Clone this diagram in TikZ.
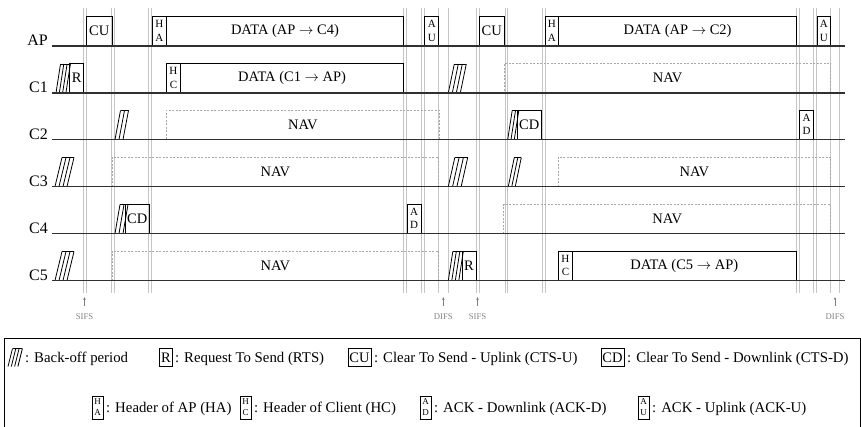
\documentclass[tikz,border=0pt]{standalone}
\usepackage{fontspec}
\setmainfont{Liberation Serif}
\usetikzlibrary{arrows.meta}
\definecolor{gridc}{HTML}{C6C6C6}
\definecolor{navc}{HTML}{A8A8A8}
\definecolor{tlc}{HTML}{303030}
\definecolor{notec}{HTML}{808080}
\tikzset{
  frame/.style={draw=black, line width=0.9pt, inner sep=0pt, anchor=south west,
    minimum height=29pt, font=\fontsize{14.5}{16}\selectfont},
  small/.style={frame, align=center, font=\fontsize{11}{13.5}\selectfont},
  nav/.style={draw=navc, dash pattern=on 2pt off 1.5pt, line width=0.8pt, inner sep=0pt,
    anchor=south west, minimum height=29pt, font=\fontsize{14.5}{16}\selectfont},
  gridline/.style={draw=gridc, line width=0.7pt},
  timeline/.style={draw=tlc, line width=1.3pt},
  rowlab/.style={anchor=base east, inner sep=0pt, font=\fontsize{16}{18}\selectfont},
  hatchline/.style={draw=black, line width=0.8pt},
  tlab/.style={anchor=north, inner sep=0pt, text=notec, font=\fontsize{8.7}{10}\selectfont},
  tarrow/.style={draw=notec, line width=0.6pt, -{Stealth[length=3pt,width=2.6pt]}, shorten <=8pt},
  ltext/.style={anchor=base west, inner sep=0pt, font=\fontsize{14.8}{16}\selectfont},
  lbox/.style={draw=black, line width=0.8pt, inner xsep=1.5pt, inner ysep=0pt,
    minimum width=11pt, minimum height=18pt, anchor=center, font=\fontsize{14.5}{16}\selectfont},
  lsmall/.style={lbox, minimum height=23pt, align=center, font=\fontsize{9}{11}\selectfont},
  legendframe/.style={draw=black, line width=0.9pt}
}
\newcommand\slot[6]{\node[#1, minimum width={(#4-#3)*1pt}] (#2) at (#3,#5) {#6};}
\newcommand\bkoff[6]{%
  \foreach \i in {1,...,#3} {\draw[hatchline] ({#1+(\i-1)*#4},#2) -- ({#1+(\i-1)*#4+#5},{#2-#6});}
  \draw[hatchline] ({#1+#5},{#2-#6}) -- ({#1+(#3-1)*#4+#5},{#2-#6});}
\begin{document}
\begin{tikzpicture}[x=1pt,y=-1pt]
\useasboundingbox (0,0) rectangle (861,427);
% guide lines
\foreach \gx in {83,86,111.5,114.5,148.5,151.5,403.3,406.7,421.3,424,438.3,448.3,476,479,505,507.7,542.7,545.3,796,799.3,813,816.5,830.3,839.7}
  \draw[gridline] (\gx,8) -- (\gx,293);
% AP
\slot{frame}{apcu1}{86}{111.5}{46}{CU}
\slot{small}{apha1}{152.3}{165.7}{46}{H\\A}
\slot{frame}{apdata1}{165.7}{403.3}{46}{DATA (AP $\rightarrow$ C4)}
\slot{small}{apau1}{424.3}{438.3}{46}{A\\U}
\slot{frame}{apcu2}{478.7}{504}{46}{CU}
\slot{small}{apha2}{544.7}{558.3}{46}{H\\A}
\slot{frame}{apdata2}{558.3}{796}{46}{DATA (AP $\rightarrow$ C2)}
\slot{small}{apau2}{816.7}{830.3}{46}{A\\U}
% C1
\bkoff{56}{93}{4}{3.3}{4.5}{29}
\slot{frame}{c1r}{69.3}{83}{93}{R}
\slot{small}{c1hc}{166}{180}{93}{H\\C}
\slot{frame}{c1data}{180}{403.3}{93}{DATA (C1 $\rightarrow$ AP)}
\bkoff{448.3}{93}{4}{4}{6}{29}
\slot{nav}{c1nav}{504}{830.3}{93}{NAV}
% C2
\bkoff{115}{139.5}{3}{4}{5.5}{29}
\slot{nav}{c2nav}{166}{439}{139.5}{NAV}
\bkoff{507.7}{139.5}{3}{3.3}{4.5}{29}
\slot{frame}{c2cd}{516.7}{541}{139.5}{CD}
\slot{small}{c2ad}{799.3}{813}{139.5}{A\\D}
% C3
\bkoff{55}{186.5}{4}{4}{7}{29}
\slot{nav}{c3nava}{111.5}{438.3}{186.5}{NAV}
\bkoff{448.3}{186.5}{4}{4.3}{6.5}{29}
\bkoff{508.3}{186.5}{3}{3.5}{6}{29}
\slot{nav}{c3navb}{557.7}{830.3}{186.5}{NAV}
% C4
\bkoff{115}{233.5}{3}{4}{5}{29}
\slot{frame}{c4cd}{125}{148.5}{233.5}{CD}
\slot{small}{c4ad}{406.7}{420.7}{233.5}{A\\D}
\slot{nav}{c4nav}{503.3}{830.3}{233.5}{NAV}
% C5
\bkoff{55}{280.5}{4}{4}{7}{29}
\slot{nav}{c5nav}{111.5}{438.3}{280.5}{NAV}
\bkoff{448.3}{280.5}{4}{3.5}{4.5}{29}
\slot{frame}{c5r}{461.7}{475.5}{280.5}{R}
\slot{small}{c5hc}{558.3}{571.7}{280.5}{H\\C}
\slot{frame}{c5data}{571.7}{796}{280.5}{DATA (C5 $\rightarrow$ AP)}
% row labels and timelines
\foreach \nm/\lab/\yy in {ap/AP/46, c1/C1/93, c2/C2/139.5, c3/C3/186.5, c4/C4/233.5, c5/C5/280.5} {
  \node[rowlab] (\nm) at (48,\yy) {\lab};
  \coordinate (\nm s) at (52,\yy);
  \coordinate (\nm e) at (845,\yy);
  \draw[timeline] (\nm s) -- (\nm e);
}
% SIFS / DIFS marks
\foreach \nm/\lab/\xx in {sa/SIFS/84.5, da/DIFS/443.3, sb/SIFS/477.5, db/DIFS/835} {
  \node[tlab] (\nm) at (\xx,313.5) {\lab};
  \coordinate (\nm t) at (\xx,297);
  \draw[tarrow] (\nm.north) -- (\nm t);
}
% legend
\draw[legendframe] (4,427) -- (4,338) -- (860.5,338) -- (860.5,427);
\bkoff{8}{366.5}{4}{3.3}{4.5}{18}
\node[ltext] (lta) at (25,362.5) {: Back-off period};
\node[lbox] (lr) at (166,357.5) {R};
\node[ltext] (ltb) at (175,362.5) {: Request To Send (RTS)};
\node[lbox] (lcu) at (359.5,357.5) {CU};
\node[ltext] (ltc) at (374,362.5) {: Clear To Send - Uplink (CTS-U)};
\node[lbox] (lcd) at (612.5,357.5) {CD};
\node[ltext] (ltd) at (627,362.5) {: Clear To Send - Downlink (CTS-D)};
\node[lsmall] (lha) at (97.5,407.5) {H\\A};
\node[ltext] (lte) at (106,412) {: Header of AP (HA)};
\node[lsmall] (lhc) at (245.5,407.5) {H\\C};
\node[ltext] (ltf) at (254,412) {: Header of Client (HC)};
\node[lsmall] (lad) at (425.5,407.5) {A\\D};
\node[ltext] (ltg) at (434,412) {: ACK - Downlink (ACK-D)};
\node[lsmall] (lau) at (643.5,407.5) {A\\U};
\node[ltext] (lth) at (652,412) {: ACK - Uplink (ACK-U)};
\end{tikzpicture}
\end{document}
